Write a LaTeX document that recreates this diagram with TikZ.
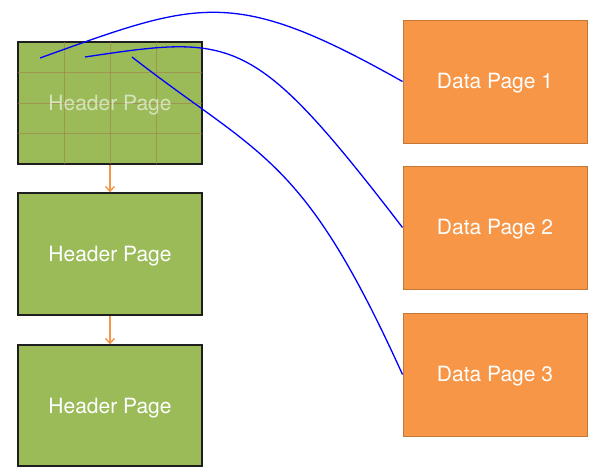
\documentclass[tikz,border=0pt]{standalone}
\usepackage{fontspec}
\setmainfont{TeX Gyre Heros}
\usetikzlibrary{arrows.meta}
\definecolor{hdrgreen}{HTML}{9BBB59}
\definecolor{hdrborder}{HTML}{1E1E1E}
\definecolor{gridbrown}{HTML}{A0804A}
\definecolor{dataorange}{HTML}{F79646}
\definecolor{databorder}{HTML}{C47838}
\definecolor{linkblue}{HTML}{0000FF}
\begin{document}
\begin{tikzpicture}[x=1pt,y=-1pt,
  hdrbox/.style={draw=hdrborder, line width=1.3pt, fill=hdrgreen, inner sep=0pt,
    minimum width=184pt, minimum height=122pt},
  databox/.style={draw=databorder, line width=1pt, fill=dataorange, inner sep=0pt,
    minimum width=184pt, minimum height=123pt},
  boxtext/.style={text=white, inner sep=0pt, font=\fontsize{21}{24}\selectfont},
  fainttext/.style={boxtext, text opacity=0.6},
  gridline/.style={draw=gridbrown, line width=0.7pt, draw opacity=0.6},
  nextarrow/.style={draw=dataorange, line width=1.4pt, -{Straight Barb[length=5pt,width=9pt,line width=1.4pt]}},
  link/.style={draw=linkblue, line width=1.3pt}
]
\useasboundingbox (0,0) rectangle (604,472);

% header pages
\node[hdrbox] (h1) at (110,103) {};
\node[hdrbox] (h2) at (110,254) {};
\node[hdrbox, minimum height=121pt] (h3) at (110,405.5) {};

% grid inside the first header page
\foreach \gx in {64,110,156} \draw[gridline] (\gx,42) -- (\gx,164);
\foreach \gy in {72.5,103,133.5} \draw[gridline] (18,\gy) -- (202,\gy);
\draw[draw=hdrborder, line width=1.3pt] (h1.north west) rectangle (h1.south east);

\node[fainttext] (h1t) at ([yshift=-2.5pt]h1.center) {Header Page};
\node[boxtext] (h2t) at ([yshift=-2.5pt]h2.center) {Header Page};
\node[boxtext] (h3t) at ([yshift=-2.5pt]h3.center) {Header Page};

% data pages
\node[databox] (d1) at (495,81.5) {};
\node[databox] (d2) at (495,227.5) {};
\node[databox] (d3) at (495,374.5) {};
\node[boxtext] (d1t) at ([yshift=-2pt]d1.center) {Data Page 1};
\node[boxtext] (d2t) at ([yshift=-2pt]d2.center) {Data Page 2};
\node[boxtext] (d3t) at ([yshift=-2pt]d3.center) {Data Page 3};

% chain arrows
\draw[nextarrow] (h1.south) -- (h2.north);
\draw[nextarrow] (h2.south) -- (h3.north);

% links
\coordinate (s1) at (40,58);
\coordinate (s2) at (85,57);
\coordinate (s3) at (132,57);
\draw[link] (s1) .. controls (200,0.4) and (233,-14) .. (d1.west);
\draw[link] (s2) .. controls (235,34.5) and (253,33) .. (d2.west);
\draw[link] (s3) .. controls (262,158) and (303,155) .. (d3.west);
\end{tikzpicture}
\end{document}
